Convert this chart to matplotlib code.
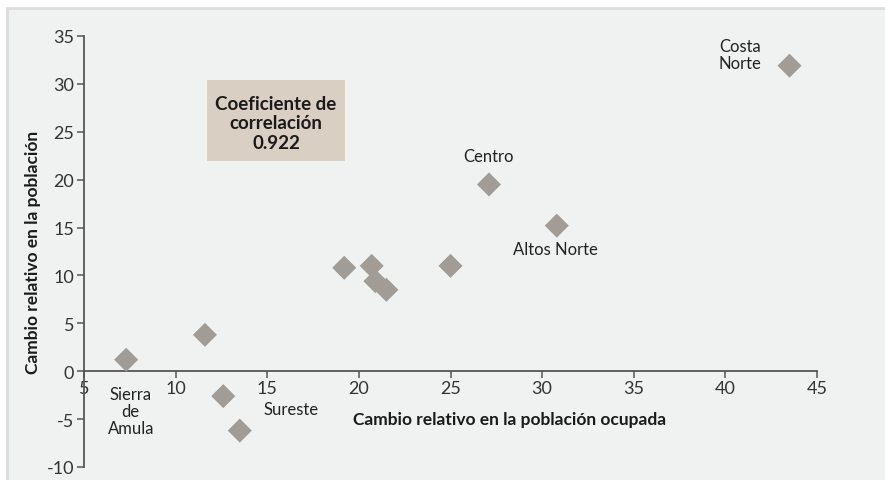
import matplotlib
matplotlib.use("Agg")
import matplotlib.pyplot as plt
from matplotlib.patches import Rectangle

# Data
x_ocupada = [7.3, 11.6, 12.6, 13.5, 19.2, 20.7, 20.9, 21.5, 25.0, 27.1, 30.8, 43.5]
y_poblacion = [1.2, 3.8, -2.6, -6.2, 10.8, 11.0, 9.4, 8.5, 11.0, 19.5, 15.2, 31.9]
x_ticks = [5, 10, 15, 20, 25, 30, 35, 40, 45]
y_ticks = [-10, -5, 0, 5, 10, 15, 20, 25, 30, 35]
labels = ["Sierra\nde\nAmula", "Sureste", "Centro", "Altos Norte", "Costa\nNorte"]
label_pos = [(7.55, -4.15), (16.3, -3.97), (27.05, 22.47), (30.7, 12.75), (39.65, 33.1)]
corr_text = "Coeficiente de\ncorrelación\n0.922"

plt.rcParams['font.family'] = ['Lato', 'DejaVu Sans']
plt.rcParams['axes.unicode_minus'] = False

W, H = 885, 481
fig = plt.figure(figsize=(W/100, H/100), dpi=100)
fig.patch.set_facecolor('white')

# panel background
fig.patches.append(Rectangle((7/W, -0.1), 1.2, 1.1 - 9/H, transform=fig.transFigure,
                             facecolor='#f0f1f1', edgecolor='#dcdcdc', linewidth=2,
                             zorder=-5))

ax = fig.add_axes([84/W, 1 - 468/H, (817-84)/W, (468-37)/H])
ax.set_zorder(2)
ax.set_facecolor('none')
ax.set_xlim(5, 45)
ax.set_ylim(-10, 35)
for s in ['top', 'right']:
    ax.spines[s].set_visible(False)
ax.spines['left'].set_position(('data', 5))
ax.spines['bottom'].set_position(('data', 0))
for s in ['left', 'bottom']:
    ax.spines[s].set_color('#555555')
    ax.spines[s].set_linewidth(1.3)
ax.set_xticks(x_ticks)
ax.set_yticks(y_ticks)
ax.tick_params(axis='both', colors='#555555', labelcolor='#333333', labelsize=13,
               length=5, width=1.1, direction='out')
ax.tick_params(axis='x', pad=1)
ax.tick_params(axis='y', pad=2)

ax.scatter(x_ocupada, y_poblacion, marker='D', s=150, color='#a19c95',
           edgecolor='none', zorder=3, clip_on=False)

for i, (t, (px, py)) in enumerate(zip(labels, label_pos)):
    ha = 'left' if i == 4 else 'center'
    ax.text(px, py, t, ha=ha, va='center', fontsize=12, color='#222222',
            linespacing=1.1, multialignment=ha)

# correlation box
ax.add_patch(Rectangle((11.71, 21.94), 7.53, 8.46, facecolor='#d9cfc2',
                       edgecolor='none', zorder=1))
ax.text(15.48, 25.95, corr_text, ha='center', va='center',
        fontsize=13.5, fontweight='bold', color='#1a1a1a', linespacing=1.17, zorder=2)

fig.text(510/W, 1 - 420/H, "Cambio relativo en la población ocupada", ha='center',
         va='center', fontsize=12.5, fontweight='bold', color='#1a1a1a')
fig.text(33/W, 1 - 252/H, "Cambio relativo en la población", ha='center',
         va='center', rotation=90, fontsize=12.5, fontweight='bold', color='#1a1a1a')

fig.savefig('out.png', dpi=100, facecolor=fig.get_facecolor())
